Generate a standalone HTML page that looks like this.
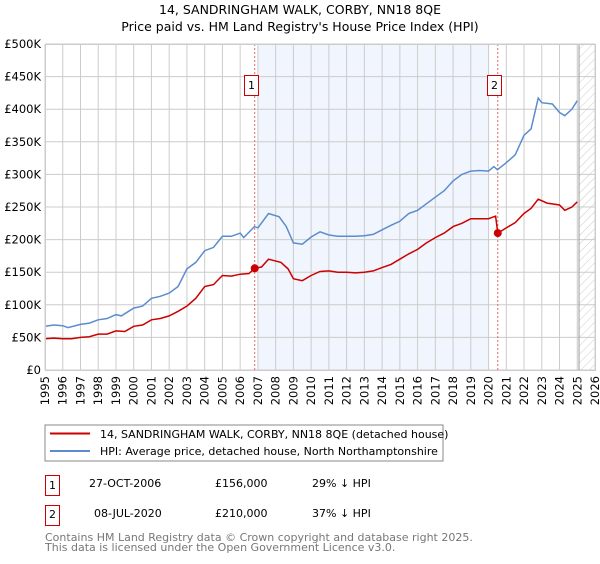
<!DOCTYPE html>
<html><head><meta charset="utf-8"><style>
body{margin:0;background:#fff;font-family:"DejaVu Sans","Liberation Sans",sans-serif;}
svg text{font-family:"DejaVu Sans","Liberation Sans",sans-serif;}
</style></head><body>
<svg id="c" width="600" height="560" viewBox="0 0 600 560" xmlns="http://www.w3.org/2000/svg">
<defs><pattern id="hatch" width="6" height="6" patternUnits="userSpaceOnUse" patternTransform="rotate(45)"><line x1="0" y1="0" x2="0" y2="6" stroke="#ccc" stroke-width="1"/></pattern></defs>
<text x="300" y="14" text-anchor="middle" font-size="12.5" fill="#000">14, SANDRINGHAM WALK, CORBY, NN18 8QE</text>
<text x="300" y="31" text-anchor="middle" font-size="12.5" fill="#000">Price paid vs. HM Land Registry's House Price Index (HPI)</text>
<g id="plot"></g>
<g>
<rect x="45" y="425" width="398" height="36" fill="#fff" stroke="#888"/>
<line x1="50" y1="433.5" x2="90" y2="433.5" stroke="#cc0000" stroke-width="2"/>
<text x="100" y="438" font-size="11">14, SANDRINGHAM WALK, CORBY, NN18 8QE (detached house)</text>
<line x1="50" y1="451" x2="90" y2="451" stroke="#5b8ccf" stroke-width="2"/>
<text x="100" y="455" font-size="11">HPI: Average price, detached house, North Northamptonshire</text>
</g>
<g font-size="11">
<rect x="45.5" y="475.5" width="14" height="20" fill="#fff" stroke="#c00"/>
<text x="52.5" y="489" text-anchor="middle">1</text>
<text x="89" y="487">27-OCT-2006</text>
<text x="215" y="487">£156,000</text>
<text x="312" y="487">29% ↓ HPI</text>
<rect x="45.5" y="505.5" width="14" height="20" fill="#fff" stroke="#c00"/>
<text x="52.5" y="518" text-anchor="middle">2</text>
<text x="94" y="517">08-JUL-2020</text>
<text x="215" y="517">£210,000</text>
<text x="312" y="517">37% ↓ HPI</text>
</g>
<text x="45" y="541" font-size="11" fill="#777">Contains HM Land Registry data © Crown copyright and database right 2025.</text>
<text x="45" y="551" font-size="11" fill="#777">This data is licensed under the Open Government Licence v3.0.</text>
</svg>
<script>
const hpiYears=[1995,1995.5,1996,1996.3,1997,1997.5,1998,1998.5,1999,1999.3,2000,2000.5,2001,2001.5,2002,2002.5,2003,2003.5,2004,2004.5,2005,2005.5,2006,2006.2,2006.8,2007,2007.6,2008.2,2008.6,2009,2009.5,2010,2010.5,2011,2011.5,2012,2012.5,2013,2013.5,2014,2014.5,2015,2015.5,2016,2016.5,2017,2017.5,2018,2018.5,2019,2019.5,2020,2020.3,2020.5,2021,2021.5,2022,2022.4,2022.8,2023,2023.6,2024,2024.3,2024.7,2025];
const hpiValues=[67,69,68,65,70,72,77,79,85,83,95,98,110,113,118,128,155,165,183,188,205,205,210,203,220,218,240,235,220,195,193,204,212,207,205,205,205,206,208,215,222,228,240,245,255,265,275,290,300,305,306,305,312,307,318,330,360,370,417,410,408,395,390,400,413];
const saleYears=[2006.82,2020.52];
const saleValues=[156,210];
const propYears=[1995,1995.5,1996,1996.5,1997,1997.5,1998,1998.5,1999,1999.5,2000,2000.5,2001,2001.5,2002,2002.5,2003,2003.5,2004,2004.5,2005,2005.5,2006,2006.5,2006.82,2007.2,2007.6,2008.3,2008.7,2009,2009.5,2010,2010.5,2011,2011.5,2012,2012.5,2013,2013.5,2014,2014.5,2015,2015.5,2016,2016.5,2017,2017.5,2018,2018.5,2019,2019.5,2020,2020.4,2020.52,2021,2021.5,2022,2022.4,2022.8,2023.3,2024,2024.3,2024.7,2025];
const propValues=[48,49,48,48,50,51,55,55,60,59,67,69,77,79,83,90,98,110,128,131,145,144,147,148,156,158,170,165,155,140,137,145,151,152,150,150,149,150,152,157,162,170,178,185,195,203,210,220,225,232,232,232,236,210,218,226,240,248,262,256,253,245,250,258];
const yTicks=[0,50,100,150,200,250,300,350,400,450,500];
const yTickLabels=["£0","£50K","£100K","£150K","£200K","£250K","£300K","£350K","£400K","£450K","£500K"];
const xTicks=[1995,1996,1997,1998,1999,2000,2001,2002,2003,2004,2005,2006,2007,2008,2009,2010,2011,2012,2013,2014,2015,2016,2017,2018,2019,2020,2021,2022,2023,2024,2025,2026];
const X0=45,X1=595,Y0=370,Y1=44;
const sx=v=>X0+(v-1995)/(2026-1995)*(X1-X0);
const sy=v=>Y0-v/500*(Y0-Y1);
const NS="http://www.w3.org/2000/svg";
const plot=document.getElementById('plot');
function mk(tag,attrs,name,parent){const e=document.createElementNS(NS,tag);for(const k in attrs)e.setAttribute(k,attrs[k]);


(parent||plot).appendChild(e);return e;}
mk('rect',{x:X0,y:Y1,width:X1-X0,height:Y0-Y1,fill:'#fff'},'plot-background');
mk('rect',{x:sx(2007),y:Y1,width:sx(2020)-sx(2007),height:Y0-Y1,fill:'#eef2fc',opacity:0.8},'ownership-shading');
mk('rect',{x:sx(2025.1),y:Y1,width:X1-sx(2025.1),height:Y0-Y1,fill:'url(#hatch)'},'future-hatch');
yTicks.forEach((t,i)=>{
mk('line',{x1:X0,x2:X1,y1:sy(t),y2:sy(t),stroke:'#ccc','stroke-width':1},'y-gridline');
const tx=mk('text',{x:X0-4,y:sy(t)+4,'text-anchor':'end','font-size':11.5,fill:'#000'},'y-tick-label');tx.textContent=yTickLabels[i];
});
xTicks.forEach(t=>{
mk('line',{y1:Y1,y2:Y0,x1:sx(t),x2:sx(t),stroke:'#ccc','stroke-width':1},'x-gridline');
const tx=mk('text',{x:0,y:0,'text-anchor':'end','font-size':11.5,fill:'#000',transform:`translate(${sx(t)+4},376) rotate(-90)`},'x-tick-label');tx.textContent=t;
});
mk('line',{x1:sx(2025.1),x2:sx(2025.1),y1:Y1,y2:Y0,stroke:'#999','stroke-width':1},'data-end-line');
saleYears.forEach((y,i)=>{
mk('line',{x1:sx(y),x2:sx(y),y1:Y1,y2:Y0,stroke:'#e06666','stroke-width':1,'stroke-dasharray':'2,2'},'sale-vline');
const bx=Math.round(sx(y))-11;
mk('rect',{x:bx+0.5,y:75.5,width:14,height:20,fill:'#fff',stroke:'#c00'},'sale-label-box');
const tt=mk('text',{x:bx+7.5,y:89,'text-anchor':'middle','font-size':11},'sale-label');tt.textContent=i+1;
});
const path=(xs,vs)=>xs.map((x,i)=>(i?'L':'M')+sx(x).toFixed(1)+','+sy(vs[i]).toFixed(1)).join('');
mk('path',{d:path(hpiYears,hpiValues),fill:'none',stroke:'#5b8ccf','stroke-width':1.5},'hpi-line');
mk('path',{d:path(propYears,propValues),fill:'none',stroke:'#cc0000','stroke-width':1.5},'property-line');
saleYears.forEach((y,i)=>{mk('circle',{cx:sx(y),cy:sy(saleValues[i]),r:4,fill:'#cc0000'},'sale-point');});
mk('rect',{x:X0+0.5,y:Y1+0.5,width:X1-X0,height:Y0-Y1,fill:'none',stroke:'#ccc'},'plot-border');
</script>
</body></html>
